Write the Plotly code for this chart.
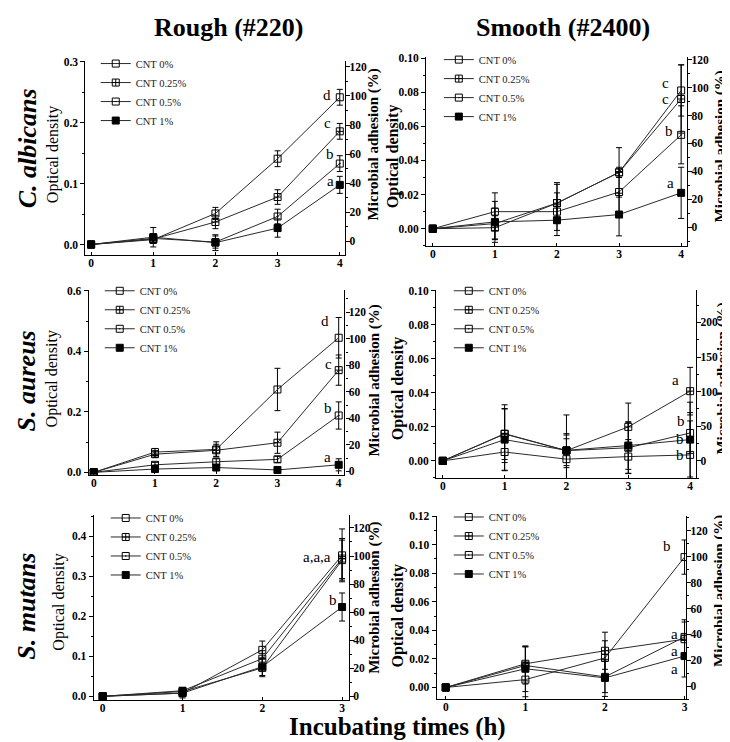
import plotly.graph_objects as go

W, H = 730, 742
SERIF = "Liberation Serif"

# ---------------- data ----------------
series_names = ["CNT 0%", "CNT 0.25%", "CNT 0.5%", "CNT 1%"]
series_symbols = ["square-open", "square-cross-open", "square-open-dot", "square"]

times_4h = [0, 1, 2, 3, 4]
times_3h = [0, 1, 2, 3]

# C. albicans, rough (#220)  - optical density
ca_rough_mean = [[0, 0.008, 0.051, 0.141, 0.242],
                 [0, 0.009, 0.037, 0.078, 0.186],
                 [0, 0.010, 0.004, 0.046, 0.133],
                 [0, 0.012, 0.003, 0.027, 0.098]]
ca_rough_err = [[0, 0.006, 0.010, 0.013, 0.013],
                [0, 0.006, 0.011, 0.012, 0.013],
                [0, 0.008, 0.010, 0.012, 0.013],
                [0, 0.016, 0.013, 0.015, 0.014]]
ca_rough_letters = ["d", "c", "b", "a"]
ca_rough_letter_x = [3.80, 3.81, 3.85, 3.85]
ca_rough_letter_y = [0.246, 0.199, 0.148, 0.104]

# C. albicans, smooth (#2400)
ca_smooth_mean = [[0, 0.0006, 0.015, 0.033, 0.081],
                  [0, 0.003, 0.015, 0.033, 0.076],
                  [0, 0.010, 0.010, 0.0215, 0.055],
                  [0, 0.004, 0.005, 0.0083, 0.021]]
ca_smooth_err = [[0, 0.007, 0.011, 0.0145, 0.015],
                 [0, 0.009, 0.012, 0.003, 0.020],
                 [0, 0.011, 0.011, 0.012, 0.017],
                 [0, 0.012, 0.009, 0.0125, 0.015]]
ca_smooth_letters = ["c", "c", "b", "a"]
ca_smooth_letter_x = [3.75, 3.75, 3.81, 3.83]
ca_smooth_letter_y = [0.0855, 0.0758, 0.057, 0.0265]

# S. aureus, rough (#220)
sa_rough_mean = [[0, 0.067, 0.076, 0.274, 0.445],
                 [0, 0.060, 0.073, 0.098, 0.338],
                 [0, 0.025, 0.035, 0.043, 0.188],
                 [0, 0.011, 0.016, 0.008, 0.025]]
sa_rough_err = [[0, 0.012, 0.025, 0.070, 0.067],
                [0, 0.010, 0.020, 0.035, 0.050],
                [0, 0.008, 0.010, 0.010, 0.045],
                [0, 0.006, 0.008, 0.006, 0.020]]
sa_rough_letters = ["d", "c", "b", "a"]
sa_rough_letter_x = [3.78, 3.84, 3.82, 3.82]
sa_rough_letter_y = [0.499, 0.358, 0.2115, 0.052]

# S. aureus, smooth (#2400)
sa_smooth_mean = [[0, 0.0052, 0.001, 0.0025, 0.0035],
                  [0, 0.016, 0.006, 0.020, 0.041],
                  [0, 0.0158, 0.006, 0.0077, 0.0164],
                  [0, 0.0125, 0.0062, 0.009, 0.0125]]
sa_smooth_err = [[0, 0.011, 0.012, 0.010, 0.020],
                 [0, 0.017, 0.021, 0.014, 0.014],
                 [0, 0.015, 0.010, 0.015, 0.012],
                 [0, 0.018, 0.009, 0.014, 0.022]]
sa_smooth_letters = ["a", "b", "b", "b"]
sa_smooth_letter_x = [3.76, 3.85, 3.83, 3.83]
sa_smooth_letter_y = [0.0473, 0.0232, 0.0128, 0.0035]

# S. mutans, rough (#220)
sm_rough_mean = [[0, 0.008, 0.116, 0.352],
                 [0, 0.014, 0.094, 0.344],
                 [0, 0.012, 0.071, 0.340],
                 [0, 0.008, 0.074, 0.223]]
sm_rough_err = [[0, 0.006, 0.022, 0.066],
                [0, 0.008, 0.020, 0.050],
                [0, 0.008, 0.022, 0.050],
                [0, 0.012, 0.022, 0.035]]
sm_rough_letters = ["a,a,a", "b"]
sm_rough_letter_x = [2.69, 2.89]
sm_rough_letter_y = [0.348, 0.240]

# S. mutans, smooth (#2400)
sm_smooth_mean = [[0, 0.0055, 0.0207, 0.0913],
                  [0, 0.0166, 0.0257, 0.0338],
                  [0, 0.0154, 0.0074, 0.0354],
                  [0, 0.0131, 0.0067, 0.022]]
sm_smooth_err = [[0, 0.012, 0.012, 0.012],
                 [0, 0.012, 0.013, 0.012],
                 [0, 0.013, 0.011, 0.012],
                 [0, 0.016, 0.013, 0.0147]]
sm_smooth_letters = ["b", "a", "a", "a"]
sm_smooth_letter_x = [2.78, 2.875, 2.875, 2.875]
sm_smooth_letter_y = [0.0993, 0.0375, 0.0257, 0.0128]

left_tick_step = [0.1, 0.02, 0.2, 0.02, 0.1, 0.02]
left_tick_fmt = [".1f", ".2f", ".1f", ".2f", ".1f", ".2f"]
right_tick_step = [20, 20, 20, 50, 20, 20]

# ---------------- layout geometry (pixels) ----------------
panels = [
    dict(x=times_4h, mean=ca_rough_mean, err=ca_rough_err, lt=ca_rough_letters, lx=ca_rough_letter_x, ly=ca_rough_letter_y,
         L=77.7, R=338, T=49, B=245, x0=83.3, xs=62.35, yl0=234.3, yls=617.7, yr0=231, yrs=1.475,
         leg=(93, 51), lt_pos=(45, 143), rt_pos=(366, 133), lt_bold=False),
    dict(x=times_4h, mean=ca_smooth_mean, err=ca_smooth_err, lt=ca_smooth_letters, lx=ca_smooth_letter_x, ly=ca_smooth_letter_y,
         L=419.3, R=681, T=45, B=235.7, x0=426, xs=62.25, yl0=218.3, yls=1733, yr0=216.7, yrs=1.4167,
         leg=(437, 47), lt_pos=(386, 145), rt_pos=(714, 135), lt_bold=True),
    dict(x=times_4h, mean=sa_rough_mean, err=sa_rough_err, lt=sa_rough_letters, lx=sa_rough_letter_x, ly=sa_rough_letter_y,
         L=81, R=337.3, T=280.7, B=467.3, x0=86, xs=61.4, yl0=465, yls=307.2, yr0=464, yrs=1.347,
         leg=(97, 281), lt_pos=(44, 370), rt_pos=(367, 372), lt_bold=False),
    dict(x=times_4h, mean=sa_smooth_mean, err=sa_smooth_err, lt=sa_smooth_letters, lx=sa_smooth_letter_x, ly=sa_smooth_letter_y,
         L=429.3, R=690, T=280.7, B=471, x0=436, xs=62, yl0=453.3, yls=1726, yr0=453.3, yrs=0.703,
         leg=(447, 281), lt_pos=(391, 380), rt_pos=(716, 370), lt_bold=True),
    dict(x=times_3h, mean=sm_rough_mean, err=sm_rough_err, lt=sm_rough_letters, lx=sm_rough_letter_x, ly=sm_rough_letter_y,
         L=86, R=341.7, T=508.3, B=695.7, x0=95, xs=80, yl0=691.7, yls=406.7, yr0=691.7, yrs=1.425,
         leg=(103, 511), lt_pos=(51, 596), rt_pos=(368, 592), lt_bold=False),
    dict(x=times_3h, mean=sm_smooth_mean, err=sm_smooth_err, lt=sm_smooth_letters, lx=sm_smooth_letter_x, ly=sm_smooth_letter_y,
         L=430, R=680, T=508.7, B=694.7, x0=439, xs=79.8, yl0=682.7, yls=1450, yr0=681.3, yrs=1.313,
         leg=(447, 510), lt_pos=(391, 610), rt_pos=(714, 585), lt_bold=True),
]

fig = go.Figure()
layout = dict(
    width=W, height=H, margin=dict(l=0, r=0, t=0, b=0),
    paper_bgcolor="white", plot_bgcolor="rgba(0,0,0,0)",
    font=dict(family=SERIF, color="black"),
    annotations=[],
)

tickfont = dict(family=SERIF, size=11.5, color="black", weight="bold")

for p, pn in enumerate(panels):
    xi = p + 1
    yli = 2 * p + 1
    yri = 2 * p + 2
    xname = "x" if xi == 1 else f"x{xi}"
    ylname = "y" if yli == 1 else f"y{yli}"
    yrname = f"y{yri}"
    legname = "legend" if p == 0 else f"legend{p + 1}"

    for s in range(4):
        fig.add_trace(go.Scatter(
            x=pn["x"], y=pn["mean"][s], name=series_names[s],
            mode="lines+markers",
            line=dict(color="#2a2a2a", width=1),
            marker=dict(symbol=series_symbols[s], size=7, color="black",
                        line=dict(color="black", width=1)),
            error_y=dict(type="data", array=pn["err"][s], visible=True,
                         thickness=1, width=3, color="black"),
            xaxis=xname, yaxis=ylname, legend=legname, showlegend=True,
        ))
    # empty trace so that the right-hand (percentage) axis is drawn
    fig.add_trace(go.Scatter(x=[], y=[], xaxis=xname, yaxis=yrname,
                             showlegend=False, hoverinfo="skip"))

    eps = 0.6
    xr = [(pn["L"] - pn["x0"]) / pn["xs"], (pn["R"] - pn["x0"]) / pn["xs"]]
    ylr = [(pn["yl0"] - pn["B"]) / pn["yls"], (pn["yl0"] - pn["T"] + eps) / pn["yls"]]
    yrr = [(pn["yr0"] - pn["B"]) / pn["yrs"], (pn["yr0"] - pn["T"] + eps) / pn["yrs"]]
    xdom = [pn["L"] / W, pn["R"] / W]
    ydom = [1 - pn["B"] / H, 1 - pn["T"] / H]

    layout["xaxis" if xi == 1 else f"xaxis{xi}"] = dict(
        domain=xdom, range=xr, anchor=ylname, dtick=1, tick0=0,
        showline=True, linecolor="black", linewidth=1.3, mirror=False,
        ticks="inside", ticklen=3, tickwidth=1, tickcolor="black",
        ticklabelstandoff=-3,
        showgrid=False, zeroline=False, tickfont=tickfont, fixedrange=True,
    )
    layout["yaxis" if yli == 1 else f"yaxis{yli}"] = dict(
        domain=ydom, range=ylr, anchor=xname, side="left",
        dtick=left_tick_step[p], tick0=0, tickformat=left_tick_fmt[p],
        showline=True, linecolor="black", linewidth=1.3,
        ticks="outside", ticklen=4, tickwidth=1, tickcolor="black",
        minor=dict(dtick=left_tick_step[p] / 2, ticks="outside", ticklen=2, tickcolor="black"),
        showgrid=False, zeroline=False, tickfont=tickfont, fixedrange=True,
    )
    layout[f"yaxis{yri}"] = dict(
        domain=ydom, range=yrr, anchor=xname, overlaying=ylname, side="right",
        dtick=right_tick_step[p], tick0=0, tickformat="d",
        showline=True, linecolor="black", linewidth=1.3,
        ticks="outside", ticklen=4, tickwidth=1, tickcolor="black",
        ticklabelstandoff=-3,
        minor=dict(dtick=right_tick_step[p] / 2, ticks="outside", ticklen=2, tickcolor="black"),
        showgrid=False, zeroline=False, tickfont=tickfont, fixedrange=True,
    )
    layout[legname] = dict(
        x=(pn["leg"][0] - 5) / W, y=1 - (pn["leg"][1] - 14.5) / H,
        xanchor="left", yanchor="top", bgcolor="rgba(0,0,0,0)", borderwidth=0,
        font=dict(family=SERIF, size=10.5, color="#222"), tracegroupgap=0,
        itemclick=False, itemdoubleclick=False,
    )

    # significance letters
    for t, lx, ly in zip(pn["lt"], pn["lx"], pn["ly"]):
        layout["annotations"].append(dict(
            x=lx, y=ly, xref=xname, yref=ylname, text=t, showarrow=False,
            xanchor="center", yanchor="middle",
            font=dict(family=SERIF, size=15, color="black"),
        ))
    # axis titles
    lt_text = "<b>Optical density</b>" if pn["lt_bold"] else "Optical density"
    layout["annotations"].append(dict(
        x=pn["lt_pos"][0] / W, y=1 - pn["lt_pos"][1] / H, xref="paper", yref="paper",
        text=lt_text, textangle=-90, showarrow=False, xanchor="center", yanchor="middle",
        font=dict(family=SERIF, size=16, color="black"),
    ))
    layout["annotations"].append(dict(
        x=pn["rt_pos"][0] / W, y=1 - pn["rt_pos"][1] / H, xref="paper", yref="paper",
        text="<b>Microbial adhesion (%)</b>", textangle=-90, showarrow=False,
        xanchor="center", yanchor="middle",
        font=dict(family=SERIF, size=15, color="black"),
    ))

# column / row / bottom titles
col_titles = [("Rough (#220)", 222, 15), ("Smooth (#2400)", 557, 15)]
for txt, px, py in col_titles:
    layout["annotations"].append(dict(
        x=px / W, y=1 - py / H, xref="paper", yref="paper", text=f"<b>{txt}</b>",
        showarrow=False, xanchor="center", yanchor="middle",
        font=dict(family=SERIF, size=26, color="black"),
    ))
row_titles = [("C. albicans", 19, 137), ("S. aureus", 19, 372), ("S. mutans", 19, 600)]
for txt, px, py in row_titles:
    layout["annotations"].append(dict(
        x=px / W, y=1 - py / H, xref="paper", yref="paper", text=f"<b><i>{txt}</i></b>",
        textangle=-90, showarrow=False, xanchor="center", yanchor="middle",
        font=dict(family=SERIF, size=26, color="black"),
    ))
layout["annotations"].append(dict(
    x=391 / W, y=1 - 723 / H, xref="paper", yref="paper", text="<b>Incubating times (h)</b>",
    showarrow=False, xanchor="center", yanchor="middle",
    font=dict(family=SERIF, size=25, color="black"),
))

fig.update_layout(**layout)
fig.write_html("out.html")
